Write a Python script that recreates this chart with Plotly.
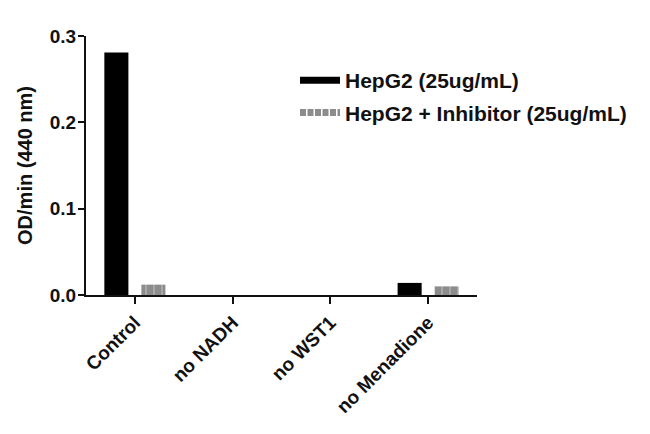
import plotly.graph_objects as go

categories = ["Control", "no NADH", "no WST1", "no Menadione"]
hepg2 = [0.281, 0.0, 0.0, 0.014]
hepg2_inhib = [0.012, 0.0, 0.0, 0.010]
series_names = ["HepG2 (25ug/mL)", "HepG2 + Inhibitor (25ug/mL)"]
y_ticks = [0.0, 0.1, 0.2, 0.3]
y_ticklabels = ["0.0", "0.1", "0.2", "0.3"]

FONT = "Liberation Sans, Arial, sans-serif"
INK = "#111111"
GRAY = "#8c8c8c"

fig = go.Figure()
fig.add_trace(go.Bar(
    x=categories, y=hepg2, name=series_names[0], showlegend=False,
    marker=dict(color="#000000", line=dict(width=0)),
))
fig.add_trace(go.Bar(
    x=categories, y=hepg2_inhib, name=series_names[1], showlegend=False,
    marker=dict(color=GRAY, line=dict(width=0),
                pattern=dict(shape="|", fgcolor="#d0d0d0", bgcolor=GRAY,
                             size=8, solidity=0.2)),
))
# legend entries (wide flat swatches like the original)
fig.add_trace(go.Scatter(
    x=[None], y=[None], mode="lines", name=series_names[0],
    legendgroup="a", line=dict(color="#000000", width=7),
))
fig.add_trace(go.Scatter(
    x=[None], y=[None], mode="lines", name=series_names[1],
    legendgroup="b", line=dict(color=GRAY, width=7, dash="6px,1.5px"),
))

fig.update_layout(
    width=650, height=434,
    paper_bgcolor="white", plot_bgcolor="white",
    margin=dict(l=86, r=173, t=36, b=139, autoexpand=False),
    barmode="group", bargap=0.243, bargroupgap=0.35,
    font=dict(family=FONT, size=18, color=INK, weight="bold"),
    showlegend=True,
    legend=dict(x=0.5345, y=0.907, xanchor="left", yanchor="top",
                font=dict(family=FONT, size=21, color=INK, weight="bold"),
                itemwidth=40, traceorder="grouped", tracegroupgap=2,
                bgcolor="rgba(0,0,0,0)"),
    xaxis=dict(
        range=[-0.5, 3.5], showline=True, linecolor=INK, linewidth=2,
        ticks="outside", ticklen=7, tickwidth=2, tickcolor=INK,
        tickangle=-45, showgrid=False, zeroline=False,
        tickfont=dict(family=FONT, size=19, color=INK, weight="bold"),
    ),
    yaxis=dict(
        range=[0, 0.3], showline=True, linecolor=INK, linewidth=2,
        ticks="outside", ticklen=6, tickwidth=2, tickcolor=INK,
        tickvals=y_ticks, ticktext=y_ticklabels, showgrid=False, zeroline=False,
        ticklabelstandoff=-2,
        tickfont=dict(family=FONT, size=19, color=INK, weight="bold"),
        title=dict(text="OD/min (440 nm)", standoff=12,
                   font=dict(family=FONT, size=20, color=INK, weight="bold")),
    ),
)

fig.write_html("out.html", config={"displayModeBar": False},
               post_script="document.body.style.margin='0';")
